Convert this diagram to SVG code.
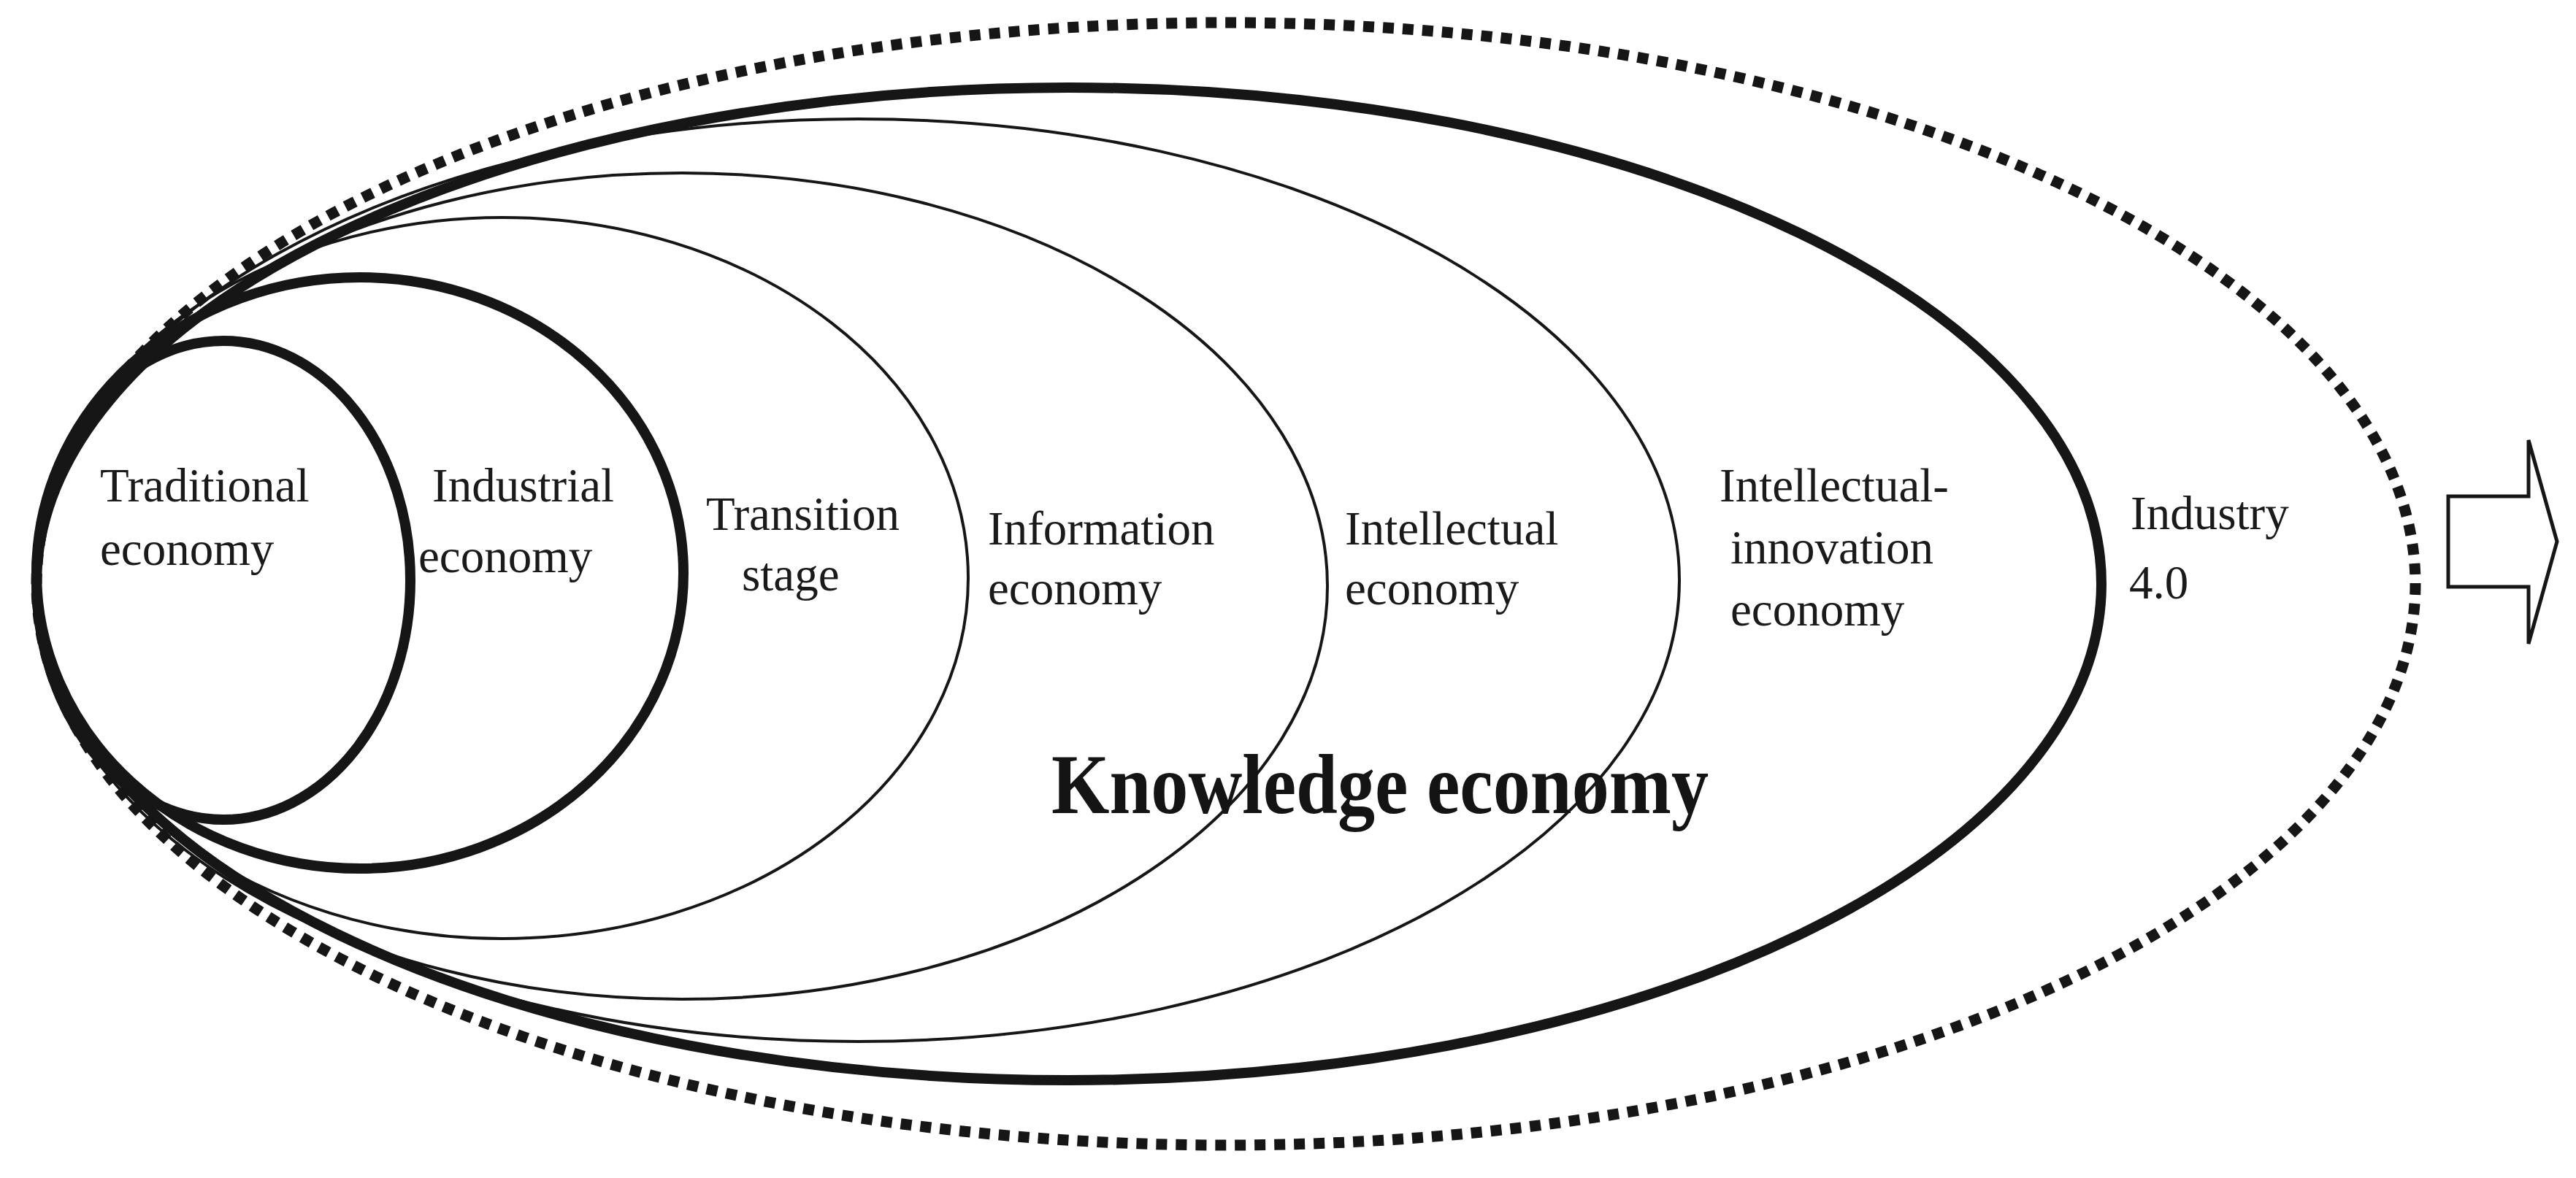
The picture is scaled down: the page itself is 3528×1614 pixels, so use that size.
<svg xmlns="http://www.w3.org/2000/svg" width="3528" height="1614" viewBox="0 0 3528 1614">
<style>
.thick{fill:none;stroke:#161616;stroke-width:14}
.thin{fill:none;stroke:#161616;stroke-width:4}
.dot{fill:none;stroke:#161616;stroke-width:15;stroke-dasharray:15 12}
.lbl{font-family:"Liberation Serif","Times New Roman",serif;font-size:65px;fill:#1a1a1a}
.big{font-family:"Liberation Serif","Times New Roman",serif;font-size:116px;font-weight:bold;fill:#141414}
</style>
<rect width="3528" height="1614" fill="#ffffff"/>
<g id="industry40">
<ellipse class="dot" cx="1679" cy="800" rx="1629" ry="769"/>
<text class="lbl" x="2918" y="725">Industry</text>
<text class="lbl" x="2916" y="820">4.0</text>
</g>
<g id="intellectual-innovation">
<ellipse class="thick" cx="1464" cy="800" rx="1414" ry="680"/>
<text class="lbl" x="2355" y="687">Intellectual-</text>
<text class="lbl" x="2370" y="772">innovation</text>
<text class="lbl" x="2370" y="857">economy</text>
</g>
<g id="intellectual">
<ellipse class="thin" cx="1175" cy="795" rx="1125" ry="632"/>
<text class="lbl" x="1842" y="746">Intellectual</text>
<text class="lbl" x="1842" y="828">economy</text>
</g>
<g id="information">
<ellipse class="thin" cx="934" cy="803" rx="884" ry="566"/>
<text class="lbl" x="1353" y="746">Information</text>
<text class="lbl" x="1353" y="828">economy</text>
</g>
<g id="transition">
<ellipse class="thin" cx="688" cy="792" rx="638" ry="494"/>
<text class="lbl" x="967" y="726">Transition</text>
<text class="lbl" x="1016" y="809">stage</text>
</g>
<g id="industrial">
<ellipse class="thick" cx="493" cy="785" rx="443" ry="405"/>
<text class="lbl" x="592" y="687">Industrial</text>
<text class="lbl" x="573" y="784">economy</text>
</g>
<g id="traditional">
<ellipse class="thick" cx="306" cy="795" rx="256" ry="328"/>
<text class="lbl" x="137" y="687">Traditional</text>
<text class="lbl" x="137" y="774">economy</text>
</g>
<g id="knowledge">
<text class="big" x="1440" y="1114" textLength="900" lengthAdjust="spacingAndGlyphs">Knowledge economy</text>
</g>
<g id="connectors">
<polygon points="3353,680 3463,680 3463,603 3502,742 3463,882 3463,804 3353,804" fill="#ffffff" stroke="#161616" stroke-width="5" stroke-linejoin="miter"/>
</g>
</svg>
